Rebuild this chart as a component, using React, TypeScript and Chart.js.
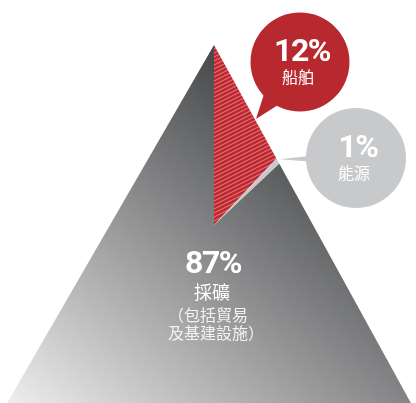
import { useEffect, useRef } from 'react';
import { Chart, registerables } from 'chart.js';

Chart.register(...registerables);

// ---- data ----
const categories = ['船舶', '能源', '採礦'];
const shares = [12, 1, 87];
const notes: string[][] = [[], [], ['（包括貿易', '及基建設施）']];

// ---- layout / style constants ----
const W = 416;
const H = 403;
const PYRAMID = { apexX: 214, apexY: 45, baseY: 405, baseLeft: 6, baseRight: 412 };
const BUBBLES = [
  { cx: 300, cy: 62, r: 49.5, tip: 114, half: 0.2, color: '#b8282f' },
  { cx: 356, cy: 158, r: 50, tip: 93, half: 0.06, color: '#c8c9cb' },
];

export default function App() {
  const ref = useRef<HTMLCanvasElement>(null);

  useEffect(() => {
    document.body.style.margin = '0';
    const canvas = ref.current!;
    const c2d = canvas.getContext('2d')!;

    const grad = c2d.createLinearGradient(300, 80, 20, 420);
    grad.addColorStop(0, '#3a3b3d');
    grad.addColorStop(1, '#f0f0f0');

    const pc = document.createElement('canvas');
    pc.width = 8;
    pc.height = 4;
    const p = pc.getContext('2d')!;
    p.fillStyle = '#bf2730';
    p.fillRect(0, 0, 8, 4);
    p.strokeStyle = '#da6a6f';
    p.lineWidth = 1.3;
    for (const off of [-4, 0, 4]) {
      p.beginPath();
      p.moveTo(0, 4 + off);
      p.lineTo(8, off);
      p.stroke();
    }
    const pattern = c2d.createPattern(pc, 'repeat')!;

    const pyramidPlugin = {
      id: 'pyramid',
      beforeDatasetsDraw(chart: any) {
        const ctx = chart.ctx;
        ctx.save();
        ctx.beginPath();
        ctx.moveTo(PYRAMID.apexX, PYRAMID.apexY);
        ctx.lineTo(PYRAMID.baseRight, PYRAMID.baseY);
        ctx.lineTo(PYRAMID.baseLeft, PYRAMID.baseY);
        ctx.closePath();
        ctx.clip();
      },
      afterDatasetsDraw(chart: any) {
        const ctx = chart.ctx;
        ctx.restore();
        const arcs = chart.getDatasetMeta(0).data;
        // callouts
        BUBBLES.forEach((b, i) => {
          const a = arcs[i];
          const mid = (a.startAngle + a.endAngle) / 2;
          const tx = a.x + Math.cos(mid) * b.tip;
          const ty = a.y + Math.sin(mid) * b.tip;
          const dir = Math.atan2(ty - b.cy, tx - b.cx);
          ctx.save();
          ctx.fillStyle = b.color;
          ctx.beginPath();
          ctx.moveTo(tx, ty);
          ctx.lineTo(b.cx + Math.cos(dir - b.half) * b.r * 0.95, b.cy + Math.sin(dir - b.half) * b.r * 0.95);
          ctx.lineTo(b.cx + Math.cos(dir + b.half) * b.r * 0.95, b.cy + Math.sin(dir + b.half) * b.r * 0.95);
          ctx.closePath();
          ctx.fill();
          ctx.beginPath();
          ctx.arc(b.cx, b.cy, b.r, 0, Math.PI * 2);
          ctx.fill();
          ctx.fillStyle = '#ffffff';
          ctx.textAlign = 'center';
          ctx.textBaseline = 'middle';
          ctx.font = 'bold 32px Roboto';
          (ctx as any).letterSpacing = '-1.5px';
          ctx.fillText(shares[i] + '%', b.cx + 2, b.cy - 9);
          (ctx as any).letterSpacing = '0px';
          ctx.font = '16px "Noto Sans CJK TC"';
          ctx.fillText(categories[i], b.cx - 2, b.cy + 15);
          ctx.restore();
        });
        // main label
        const m = arcs[2];
        ctx.save();
        ctx.fillStyle = '#ffffff';
        ctx.textAlign = 'center';
        ctx.textBaseline = 'middle';
        ctx.font = 'bold 32px Roboto';
        (ctx as any).letterSpacing = '-1.5px';
        ctx.fillText(shares[2] + '%', m.x - 1, m.y + 40);
        (ctx as any).letterSpacing = '0px';
        ctx.font = '18px "Noto Sans CJK TC"';
        ctx.fillText(categories[2], m.x - 2, m.y + 67);
        ctx.font = '16px "Noto Sans CJK TC"';
        ctx.fillStyle = '#f2f2f2';
        ctx.textAlign = 'left';
        notes[2].forEach((t, k) => ctx.fillText(t, m.x - 46, m.y + 90 + k * 18));
        ctx.restore();
      },
    };

    const chart = new Chart(canvas, {
      type: 'pie',
      data: {
        labels: categories,
        datasets: [
          {
            data: shares,
            backgroundColor: [pattern, '#c9cacc', grad] as any,
            borderWidth: 0,
            radius: 300,
            clip: false as any,
          },
        ],
      },
      options: {
        animation: false,
        responsive: false,
        devicePixelRatio: 1,
        rotation: 0,
        layout: { padding: { left: 12, top: 47, right: 0, bottom: 0 } },
        plugins: { legend: { display: false }, tooltip: { enabled: false } },
        events: [],
      },
      plugins: [pyramidPlugin],
    });
    return () => chart.destroy();
  }, []);

  return (
    <div style={{ width: W, height: H, background: '#ffffff' }}>
      <canvas ref={ref} width={W} height={H} style={{ display: 'block', width: W, height: H }} />
    </div>
  );
}
